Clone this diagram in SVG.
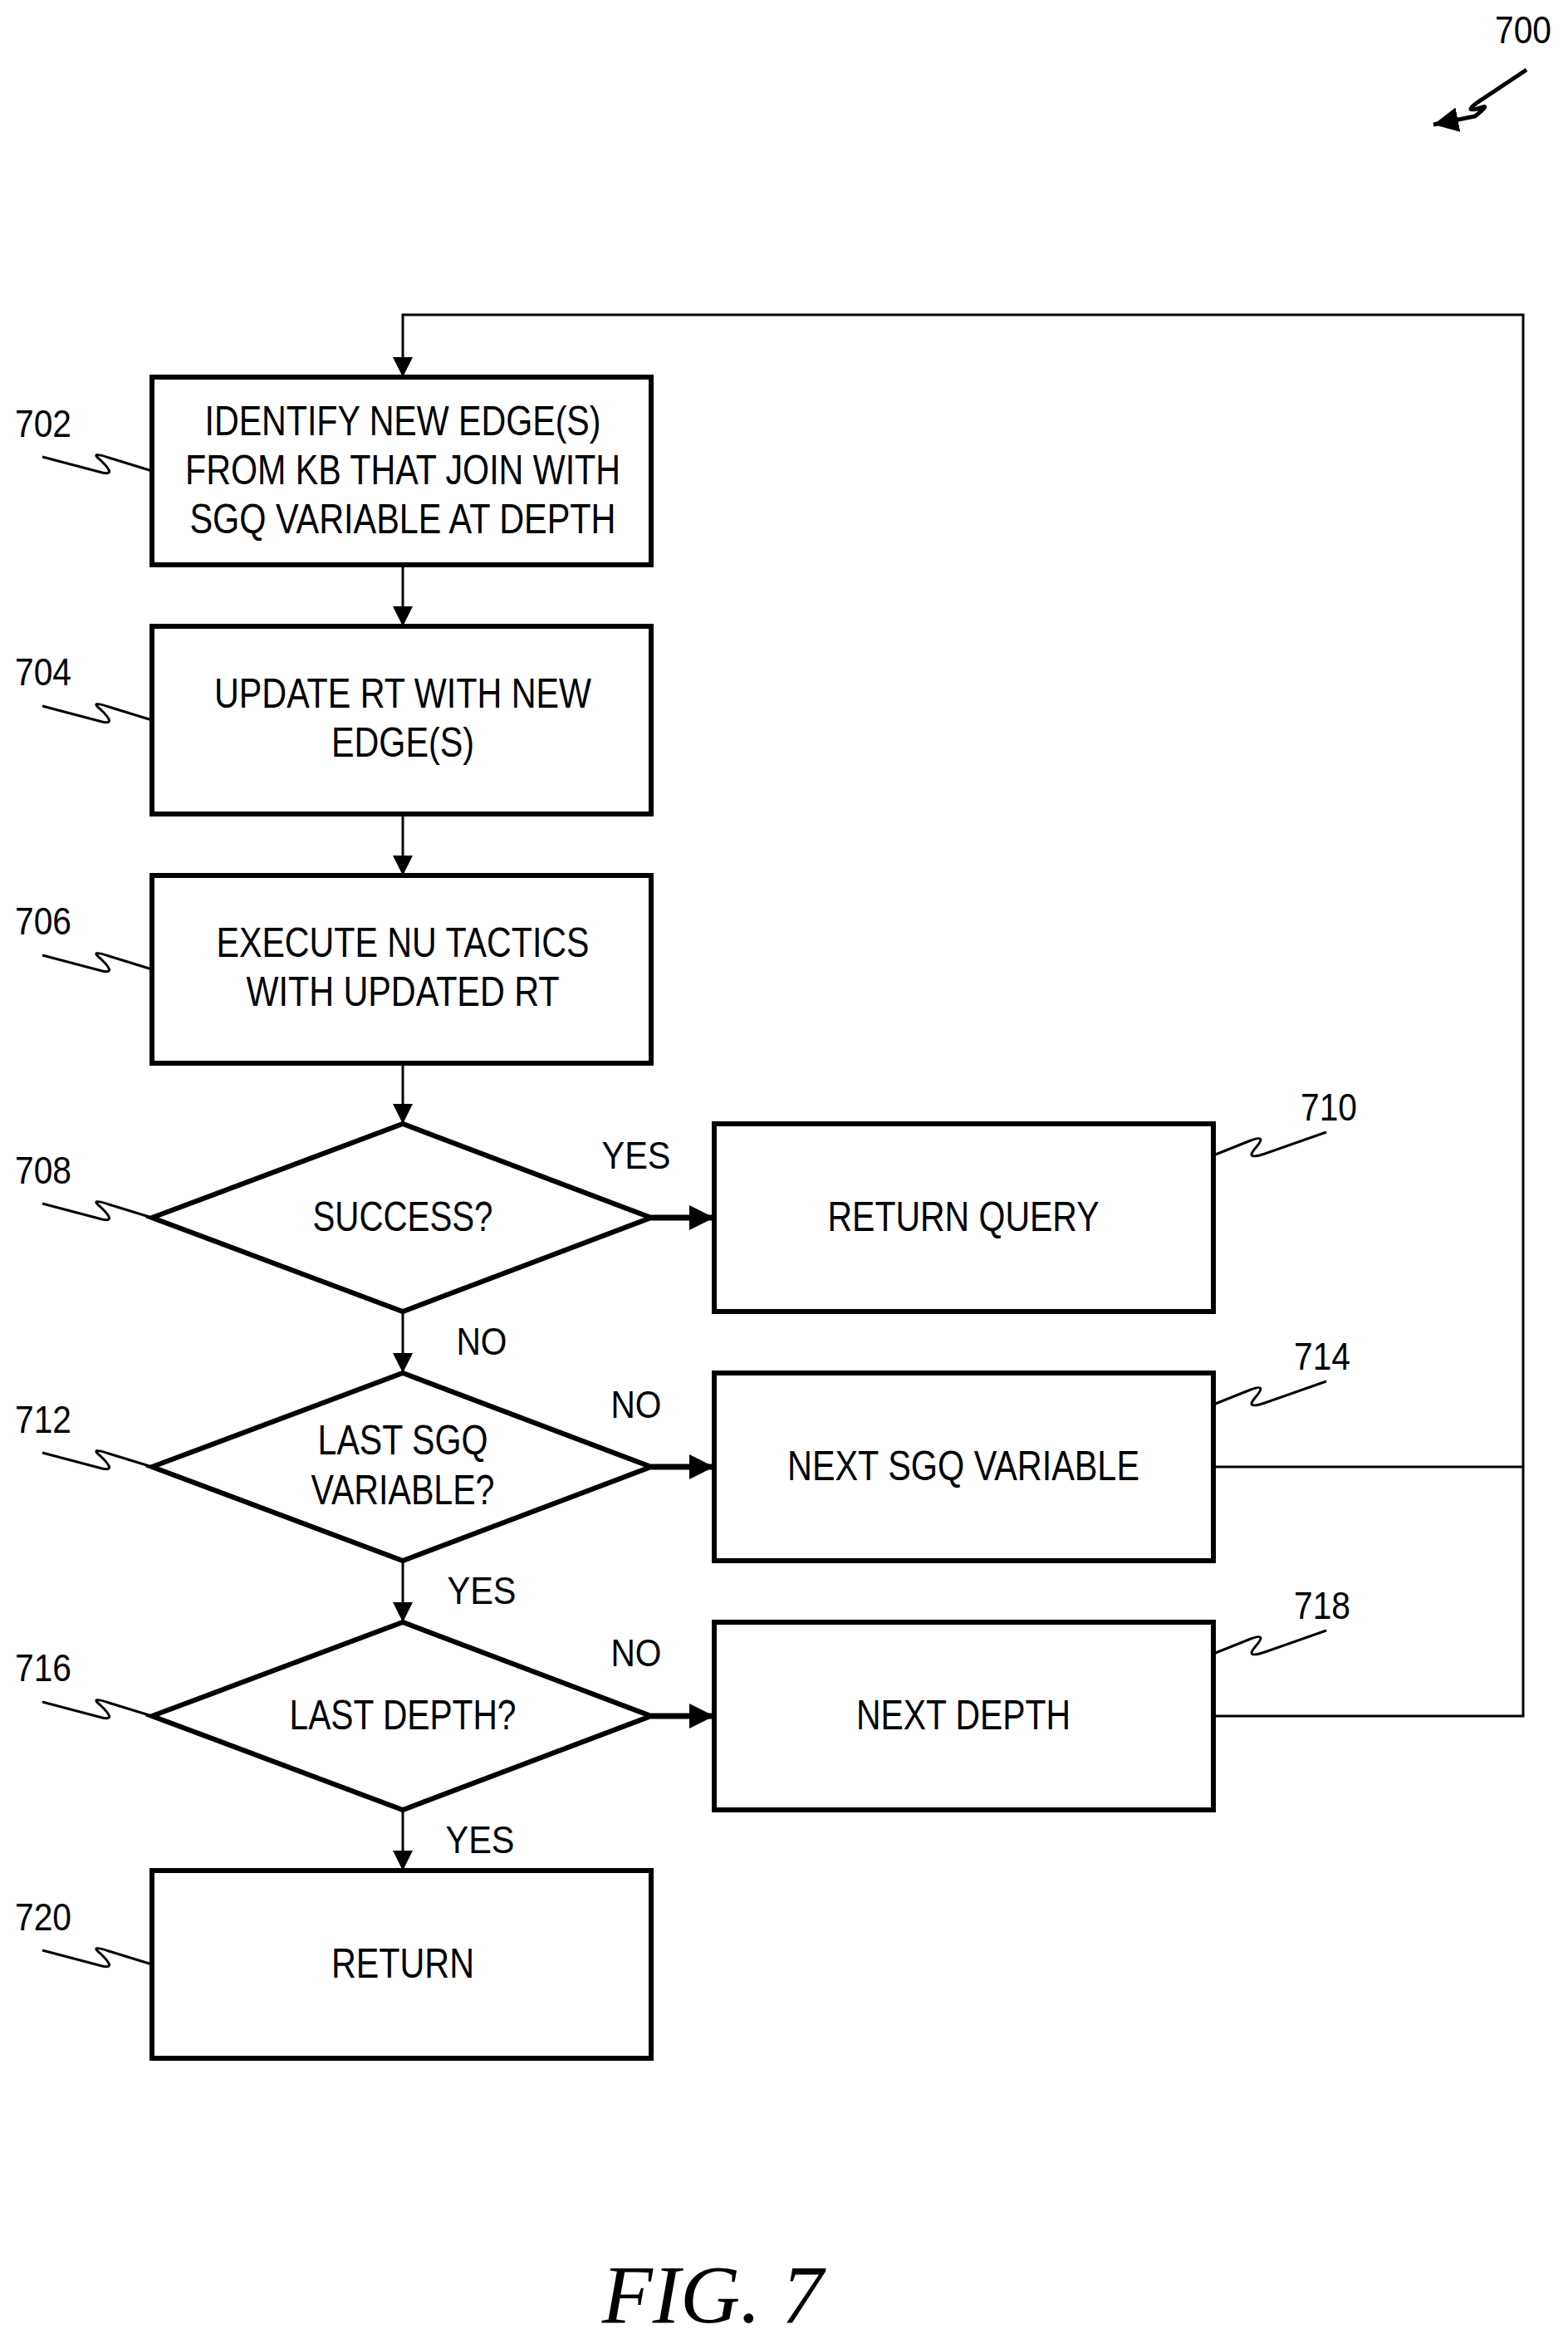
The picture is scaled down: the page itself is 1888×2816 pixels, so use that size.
<svg xmlns="http://www.w3.org/2000/svg" width="1888" height="2816" viewBox="0 0 1888 2816">
<style>
.b{fill:#fff;stroke:#000;stroke-width:6}
.t{font-family:"Liberation Sans",Arial,sans-serif;font-size:50px;text-anchor:middle;fill:#000;transform:translateY(-4px)}
.l{font-family:"Liberation Sans",Arial,sans-serif;font-size:46px;text-anchor:middle;fill:#000;transform:translateY(-4px)}
.c{fill:none;stroke:#000;stroke-width:3}
.h{fill:none;stroke:#000;stroke-width:7}
.s{fill:none;stroke:#000;stroke-width:3}
</style>
<defs>
<marker id="ar" viewBox="0 0 10 10" refX="10" refY="5" markerWidth="24" markerHeight="28" orient="auto" markerUnits="userSpaceOnUse"><path d="M0,0L10,5L0,10z"/></marker>
<marker id="ab" viewBox="0 0 10 10" refX="10" refY="5" markerWidth="30" markerHeight="34" orient="auto" markerUnits="userSpaceOnUse"><path d="M0,0L10,5L0,10z"/></marker>
<path id="sql" d="M-132,-17 L-60,2 Q-42,6 -62,-13 Q-76,-24 -52,-16 L0,0" class="s"/>
<path id="sqr" d="M0,0 L45,-18 Q66,-26 50,-8 Q38,6 62,-2 L136,-28" class="s"/>
</defs>
<g id="connectors">
<path class="c" d="M485,680V754" marker-end="url(#ar)"/>
<path class="c" d="M485,980V1054" marker-end="url(#ar)"/>
<path class="c" d="M485,1280V1353" marker-end="url(#ar)"/>
<path class="c" d="M485,1579V1653" marker-end="url(#ar)"/>
<path class="c" d="M485,1879V1953" marker-end="url(#ar)"/>
<path class="c" d="M485,2179V2252" marker-end="url(#ar)"/>
<path class="h" d="M784,1466H860" marker-end="url(#ab)"/>
<path class="h" d="M784,1766H860" marker-end="url(#ab)"/>
<path class="h" d="M784,2066H860" marker-end="url(#ab)"/>
<path class="c" d="M1461,1766H1834"/>
<path class="c" d="M1461,2066H1834V379H485V454" marker-end="url(#ar)"/>
</g>
<g id="n702"><rect class="b" x="183" y="454" width="601" height="226"/>
<text class="t" x="485" y="528" textLength="477" lengthAdjust="spacingAndGlyphs">IDENTIFY NEW EDGE(S)</text>
<text class="t" x="485" y="587" textLength="524" lengthAdjust="spacingAndGlyphs">FROM KB THAT JOIN WITH</text>
<text class="t" x="485" y="646" textLength="513" lengthAdjust="spacingAndGlyphs">SGQ VARIABLE AT DEPTH</text>
<use href="#sql" x="183" y="567"/><text class="l" x="52" y="530" textLength="68" lengthAdjust="spacingAndGlyphs">702</text></g>
<g id="n704"><rect class="b" x="183" y="754" width="601" height="226"/>
<text class="t" x="485" y="856" textLength="454" lengthAdjust="spacingAndGlyphs">UPDATE RT WITH NEW</text>
<text class="t" x="485" y="915" textLength="172" lengthAdjust="spacingAndGlyphs">EDGE(S)</text>
<use href="#sql" x="183" y="867"/><text class="l" x="52" y="829" textLength="68" lengthAdjust="spacingAndGlyphs">704</text></g>
<g id="n706"><rect class="b" x="183" y="1054" width="601" height="226"/>
<text class="t" x="485" y="1156" textLength="449" lengthAdjust="spacingAndGlyphs">EXECUTE NU TACTICS</text>
<text class="t" x="485" y="1215" textLength="377" lengthAdjust="spacingAndGlyphs">WITH UPDATED RT</text>
<use href="#sql" x="183" y="1167"/><text class="l" x="52" y="1129" textLength="68" lengthAdjust="spacingAndGlyphs">706</text></g>
<g id="n708"><path class="b" d="M183,1466L485,1353L784,1466L485,1579Z"/>
<text class="t" x="485" y="1486" textLength="217" lengthAdjust="spacingAndGlyphs">SUCCESS?</text>
<use href="#sql" x="183" y="1466"/><text class="l" x="52" y="1429" textLength="68" lengthAdjust="spacingAndGlyphs">708</text></g>
<g id="n710"><rect class="b" x="860" y="1353" width="601" height="226"/>
<text class="t" x="1160" y="1486" textLength="327" lengthAdjust="spacingAndGlyphs">RETURN QUERY</text>
<use href="#sqr" x="1461" y="1391"/><text class="l" x="1600" y="1353" textLength="68" lengthAdjust="spacingAndGlyphs">710</text></g>
<g id="n712"><path class="b" d="M183,1766L485,1653L784,1766L485,1879Z"/>
<text class="t" x="485" y="1755" textLength="205" lengthAdjust="spacingAndGlyphs">LAST SGQ</text>
<text class="t" x="485" y="1815" textLength="221" lengthAdjust="spacingAndGlyphs">VARIABLE?</text>
<use href="#sql" x="183" y="1766"/><text class="l" x="52" y="1729" textLength="68" lengthAdjust="spacingAndGlyphs">712</text></g>
<g id="n714"><rect class="b" x="860" y="1653" width="601" height="226"/>
<text class="t" x="1160" y="1786" textLength="424" lengthAdjust="spacingAndGlyphs">NEXT SGQ VARIABLE</text>
<use href="#sqr" x="1461" y="1691"/><text class="l" x="1592" y="1653" textLength="68" lengthAdjust="spacingAndGlyphs">714</text></g>
<g id="n716"><path class="b" d="M183,2066L485,1953L784,2066L485,2179Z"/>
<text class="t" x="485" y="2086" textLength="273" lengthAdjust="spacingAndGlyphs">LAST DEPTH?</text>
<use href="#sql" x="183" y="2066"/><text class="l" x="52" y="2028" textLength="68" lengthAdjust="spacingAndGlyphs">716</text></g>
<g id="n718"><rect class="b" x="860" y="1953" width="601" height="226"/>
<text class="t" x="1160" y="2086" textLength="258" lengthAdjust="spacingAndGlyphs">NEXT DEPTH</text>
<use href="#sqr" x="1461" y="1991"/><text class="l" x="1592" y="1953" textLength="68" lengthAdjust="spacingAndGlyphs">718</text></g>
<g id="n720"><rect class="b" x="183" y="2252" width="601" height="226"/>
<text class="t" x="485" y="2385" textLength="172" lengthAdjust="spacingAndGlyphs">RETURN</text>
<use href="#sql" x="183" y="2365"/><text class="l" x="52" y="2328" textLength="68" lengthAdjust="spacingAndGlyphs">720</text></g>
<g id="labels">
<text class="l" x="766" y="1411" textLength="83" lengthAdjust="spacingAndGlyphs">YES</text>
<text class="l" x="580" y="1635" textLength="61" lengthAdjust="spacingAndGlyphs">NO</text>
<text class="l" x="766" y="1711" textLength="61" lengthAdjust="spacingAndGlyphs">NO</text>
<text class="l" x="580" y="1935" textLength="83" lengthAdjust="spacingAndGlyphs">YES</text>
<text class="l" x="766" y="2010" textLength="61" lengthAdjust="spacingAndGlyphs">NO</text>
<text class="l" x="578" y="2235" textLength="83" lengthAdjust="spacingAndGlyphs">YES</text>
</g>
<g id="ref700">
<text class="l" x="1834" y="56" textLength="68" lengthAdjust="spacingAndGlyphs">700</text>
<path d="M1838,84 L1778,124 Q1762,136 1782,130 Q1796,124 1776,140 L1726,150" fill="none" stroke="#000" stroke-width="5" marker-end="url(#ab)"/>
</g>
<text x="858" y="2796" font-family="'Liberation Serif','Times New Roman',serif" font-style="italic" font-size="100" text-anchor="middle">FIG. 7</text>
</svg>
